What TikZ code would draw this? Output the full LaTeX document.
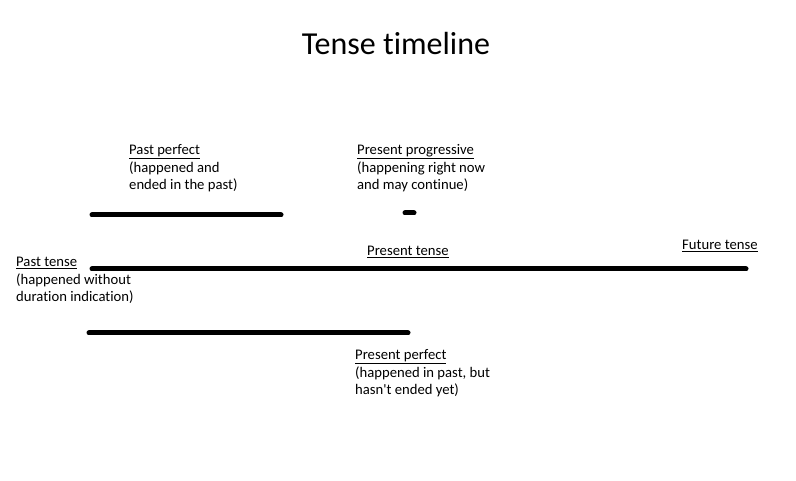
\documentclass[tikz,border=0pt]{standalone}
\usepackage{fontspec}
\newfontfamily\calfont[Ligatures={NoCommon}]{Carlito}

\tikzset{
  bar/.style={line width=5pt, line cap=round},
  tlabel/.style={anchor=base west, inner sep=0pt, align=left,
    font=\calfont\fontsize{14.67}{17.8}\selectfont},
}
\newcommand{\tname}[1]{\underline{#1}}

\begin{document}
\begin{tikzpicture}[x=1pt,y=-1pt]
\useasboundingbox (0,0) rectangle (796,481);

% title
\node[font=\calfont\fontsize{32}{36}\selectfont, anchor=base] (title) at (396,55) {Tense timeline};

% past perfect (labels placed by their last line)
\node[tlabel] (pastperfect) at (129,190) {\tname{Past perfect}\\(happened and\\ended in the past)};
\draw[bar] (92,215) -- (281,215);

% present progressive
\node[tlabel] (presprog) at (357,190) {\tname{Present progressive}\\(happening right now\\and may continue)};
\draw[bar] (405,213) -- (414,213);

% main line
\node[tlabel] (pasttense) at (16,302) {\tname{Past tense}\\(happened without\\duration indication)};
\node[tlabel] (presenttense) at (367,256) {\tname{Present tense}};
\node[tlabel] (futuretense) at (682,250) {\tname{Future tense}};
\draw[bar] (92,269) -- (746,269);

% present perfect
\draw[bar] (89,333) -- (408,333);
\node[tlabel] (presperfect) at (355,395) {\tname{Present perfect}\\(happened in past, but\\hasn't ended yet)};

\end{tikzpicture}
\end{document}
